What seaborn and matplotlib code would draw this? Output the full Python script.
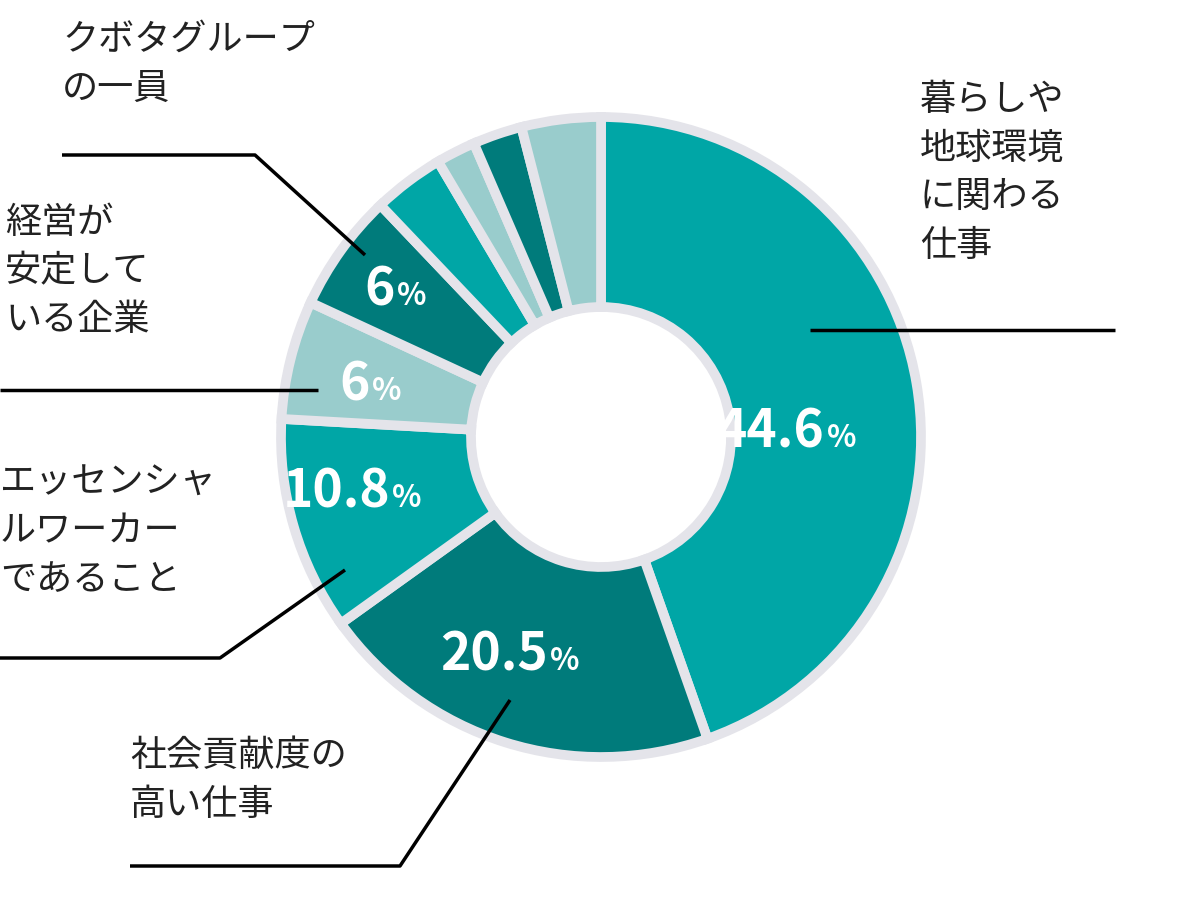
import matplotlib
matplotlib.use("Agg")
import matplotlib.pyplot as plt
import seaborn as sns

sns.set_theme(style="white")
plt.rcParams['font.family'] = ['Noto Sans CJK JP', 'DejaVu Sans']

categories = ["暮らしや\n地球環境\nに関わる\n仕事", "社会貢献度の\n高い仕事", "エッセンシャ\nルワーカー\nであること",
              "経営が\n安定して\nいる企業", "クボタグループ\nの一員", "その他1", "その他2", "その他3", "その他4"]
values = [44.6, 20.5, 10.8, 6.0, 6.0, 3.6, 2.0, 2.5, 4.0]
value_labels = ["44.6", "20.5", "10.8", "6", "6", "", "", "", ""]
colors = ["#00A6A6", "#007B7B", "#00A6A6", "#99CCCC", "#007B7B", "#00A6A6", "#99CCCC", "#007B7B", "#99CCCC"]

fig = plt.figure(figsize=(12, 9), dpi=100)
ax = fig.add_axes([0, 0, 1, 1])
ax.set_xlim(0, 1200)
ax.set_ylim(0, 900)
ax.set_aspect('equal')
ax.axis('off')

cx, cy, R = 601, 463, 320
ax.pie(values, colors=colors, startangle=90, counterclock=False, center=(cx, cy), radius=R,
       wedgeprops=dict(width=190, edgecolor="#E4E4EA", linewidth=7), frame=True)
ax.set_xlim(0, 1200); ax.set_ylim(0, 900); ax.axis('off')

# value labels (number + smaller %)
val_pos = [(825, 468), (548, 245), (390, 408), (370, 515), (395, 610)]
for (x, y), t in zip(val_pos, value_labels[:5]):
    tx = ax.text(x, y, t, color="white", fontsize=37, fontweight="bold", ha="right", va="center")
    ax.text(x + 2, y - 6, "%", color="white", fontsize=22, fontweight="bold", ha="left", va="center")

# category labels
lab_pos = [(920, 818), (130, 162), (0, 435), (5, 695), (62, 878)]
for (x, y), t in zip(lab_pos, categories[:5]):
    ax.text(x, y, t, fontsize=26, color="#222222", ha="left", va="top", linespacing=1.45)

# leader lines
lines = [
    [(810, 570), (1115, 570)],
    [(510, 200), (400, 34), (130, 34)],
    [(345, 330), (220, 242), (0, 242)],
    [(318, 510), (0, 510)],
    [(365, 645), (255, 745), (62, 745)],
]
for pts in lines:
    xs, ys = zip(*pts)
    ax.plot(xs, ys, color="black", lw=2.5, solid_capstyle="butt")

fig.savefig("out.png", dpi=100, facecolor="white")
